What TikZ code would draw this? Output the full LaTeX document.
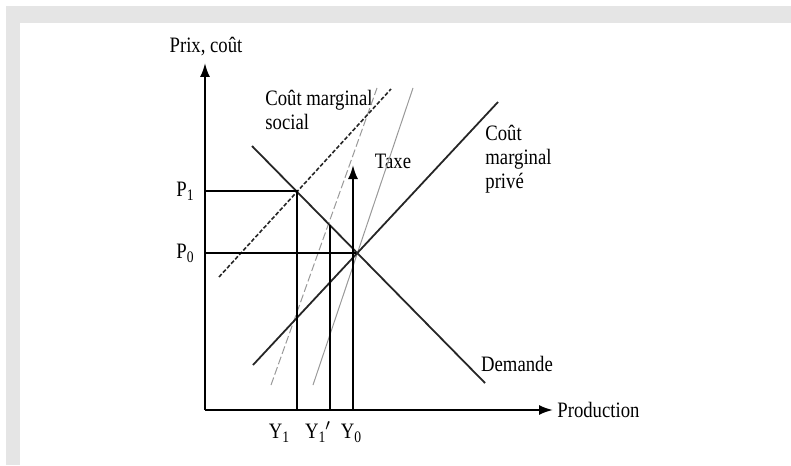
\documentclass[tikz,border=0pt]{standalone}
\usepackage{fontspec}
\setmainfont[FakeStretch=0.85]{Liberation Serif}
\usetikzlibrary{arrows.meta}

\newcommand{\sub}[1]{\raisebox{-0.45ex}{\fontsize{8}{8}\selectfont #1}}

\begin{document}
\begin{tikzpicture}[x=0.5pt,y=-0.5pt,
  axis/.style={line width=1pt,-{Latex[length=7pt,width=5pt]}},
  curve/.style={line width=0.9pt,black!85},
  level/.style={line width=1pt},
  social/.style={line width=0.8pt,black!85,dash pattern=on 2pt off 1pt},
  shifted/.style={line width=0.5pt,black!40},
  lbl/.style={inner sep=0pt,font=\fontsize{11}{12}\selectfont}]
\useasboundingbox (0,0) rectangle (791,465);
\fill[black!10] (6,6) rectangle (791,23);
\fill[black!10] (6,6) rectangle (20,465);

\coordinate (o) at (205,410);
\coordinate (ytip) at (205,63);
\coordinate (xtip) at (553,410);
\coordinate (d1) at (252,146);
\coordinate (d2) at (485,383);
\coordinate (s1) at (253,365);
\coordinate (s2) at (498,102);
\coordinate (c1) at (219,277);
\coordinate (c2) at (391,89);
\coordinate (g1) at (271,385);
\coordinate (g2) at (377,88);
\coordinate (t1) at (313,385);
\coordinate (t2) at (413,88);
\coordinate (e1) at (297,191);
\coordinate (e1p) at (330,225);
\coordinate (e0) at (356,253);
\coordinate (y0b) at (353,410);
\coordinate (y0t) at (353,165);

\node[lbl] (prix) at (206,47) {Prix, coût};
\node[lbl,anchor=west] (prod) at (557,410) {Production};
\node[lbl,anchor=base east] (p1) at (194,196) {P\sub{1}};
\node[lbl,anchor=base east] (p0) at (194,258) {P\sub{0}};
\node[lbl,anchor=base] (y1) at (279,438) {Y\sub{1}};
\node[lbl,anchor=base] (y1p) at (318,438) {Y\sub{1}$'$};
\node[lbl,anchor=base] (y0) at (351,438) {Y\sub{0}};
\node[lbl,anchor=north west,align=left] (cms) at (265,90) {Coût marginal\\social};
\node[lbl] (taxe) at (393,161) {Taxe};
\node[lbl,anchor=north west,align=left] (cmp) at (485,125) {Coût\\marginal\\privé};
\node[lbl] (dem) at (517,364) {Demande};

\draw[shifted,dash pattern=on 4pt off 1.5pt] (g1) -- (g2);
\draw[shifted] (t1) -- (t2);
\draw[social] (c1) -- (c2);
\draw[curve] (d1) -- (d2);
\draw[curve] (s1) -- (s2);

\draw[level] (o |- e1) -- (e1) -- (o -| e1);
\draw[level] (o |- e0) -- (e0);
\draw[level] (e1p) -- (o -| e1p);
\draw[level,-{Latex[length=7pt,width=5pt]}] (y0b) -- (y0t);

\draw[axis] (o) -- (ytip);
\draw[axis] (o) -- (xtip);
\end{tikzpicture}
\end{document}
